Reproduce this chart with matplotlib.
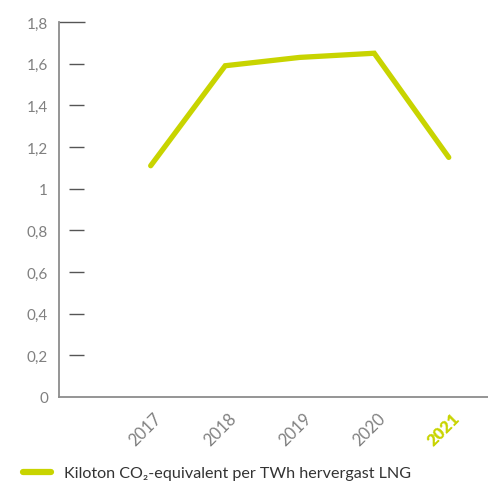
import matplotlib.pyplot as plt
import matplotlib.transforms as mtransforms
from matplotlib.lines import Line2D

# data
years = ["2017", "2018", "2019", "2020", "2021"]
values = [1.11, 1.59, 1.63, 1.65, 1.15]
y_ticks = [0, 0.2, 0.4, 0.6, 0.8, 1, 1.2, 1.4, 1.6, 1.8]
y_labels = ["0", "0,2", "0,4", "0,6", "0,8", "1", "1,2", "1,4", "1,6", "1,8"]
legend_label = "Kiloton CO\u2082-equivalent per TWh hervergast LNG"

green = "#c8d400"
grey = "#808080"
axis_grey = "#8c8c8c"
fonts = ["Lato", "DejaVu Sans"]

plt.rcParams["font.family"] = fonts

fig = plt.figure(figsize=(4.89, 4.85), dpi=100)
ax = fig.add_axes([0.1207, 0.1794, 0.8793, 0.7732])

x = list(range(len(years)))
ax.plot(x, values, color=green, linewidth=3.8, solid_capstyle="round",
        solid_joinstyle="miter")

ax.set_xlim(-1.23, 4.54)
ax.set_ylim(0, 1.8)

for side in ["top", "right"]:
    ax.spines[side].set_visible(False)
for side in ["left", "bottom"]:
    ax.spines[side].set_color(axis_grey)
    ax.spines[side].set_linewidth(1.3)

# y axis: small dashes detached from the axis
ax.set_yticks(y_ticks)
ax.set_yticklabels(y_labels, fontsize=11, color=grey)
ax.tick_params(axis="y", length=0, pad=8)
trans = mtransforms.blended_transform_factory(ax.transAxes, ax.transData)
ax.hlines(y_ticks[1:-1], 0.023, 0.058, transform=trans, color="#555555",
          linewidth=1.0)
ax.hlines(y_ticks[-1:], 0.0, 0.06, transform=trans, color="#555555",
          linewidth=1.0, clip_on=False)

# x axis labels
ax.set_xticks(x)
ax.set_xticklabels(years, fontsize=12, color=grey,
                   rotation=45, ha="right", va="top", rotation_mode="anchor")
ax.tick_params(axis="x", length=0, pad=9)
last = ax.get_xticklabels()[-1]
last.set_color(green)
last.set_fontweight("heavy")
offset = mtransforms.ScaledTranslation(3 / 100, 0, fig.dpi_scale_trans)
for lab in ax.get_xticklabels():
    lab.set_transform(lab.get_transform() + offset)

handle = Line2D([], [], color=green, linewidth=4.5, solid_capstyle="round")
fig.legend([handle], [legend_label], loc="lower left",
           bbox_to_anchor=(0.018, -0.022), frameon=False, fontsize=11.6,
           handlelength=1.7, handletextpad=0.8, labelcolor="#333333")

fig.savefig("out.png", dpi=100)
